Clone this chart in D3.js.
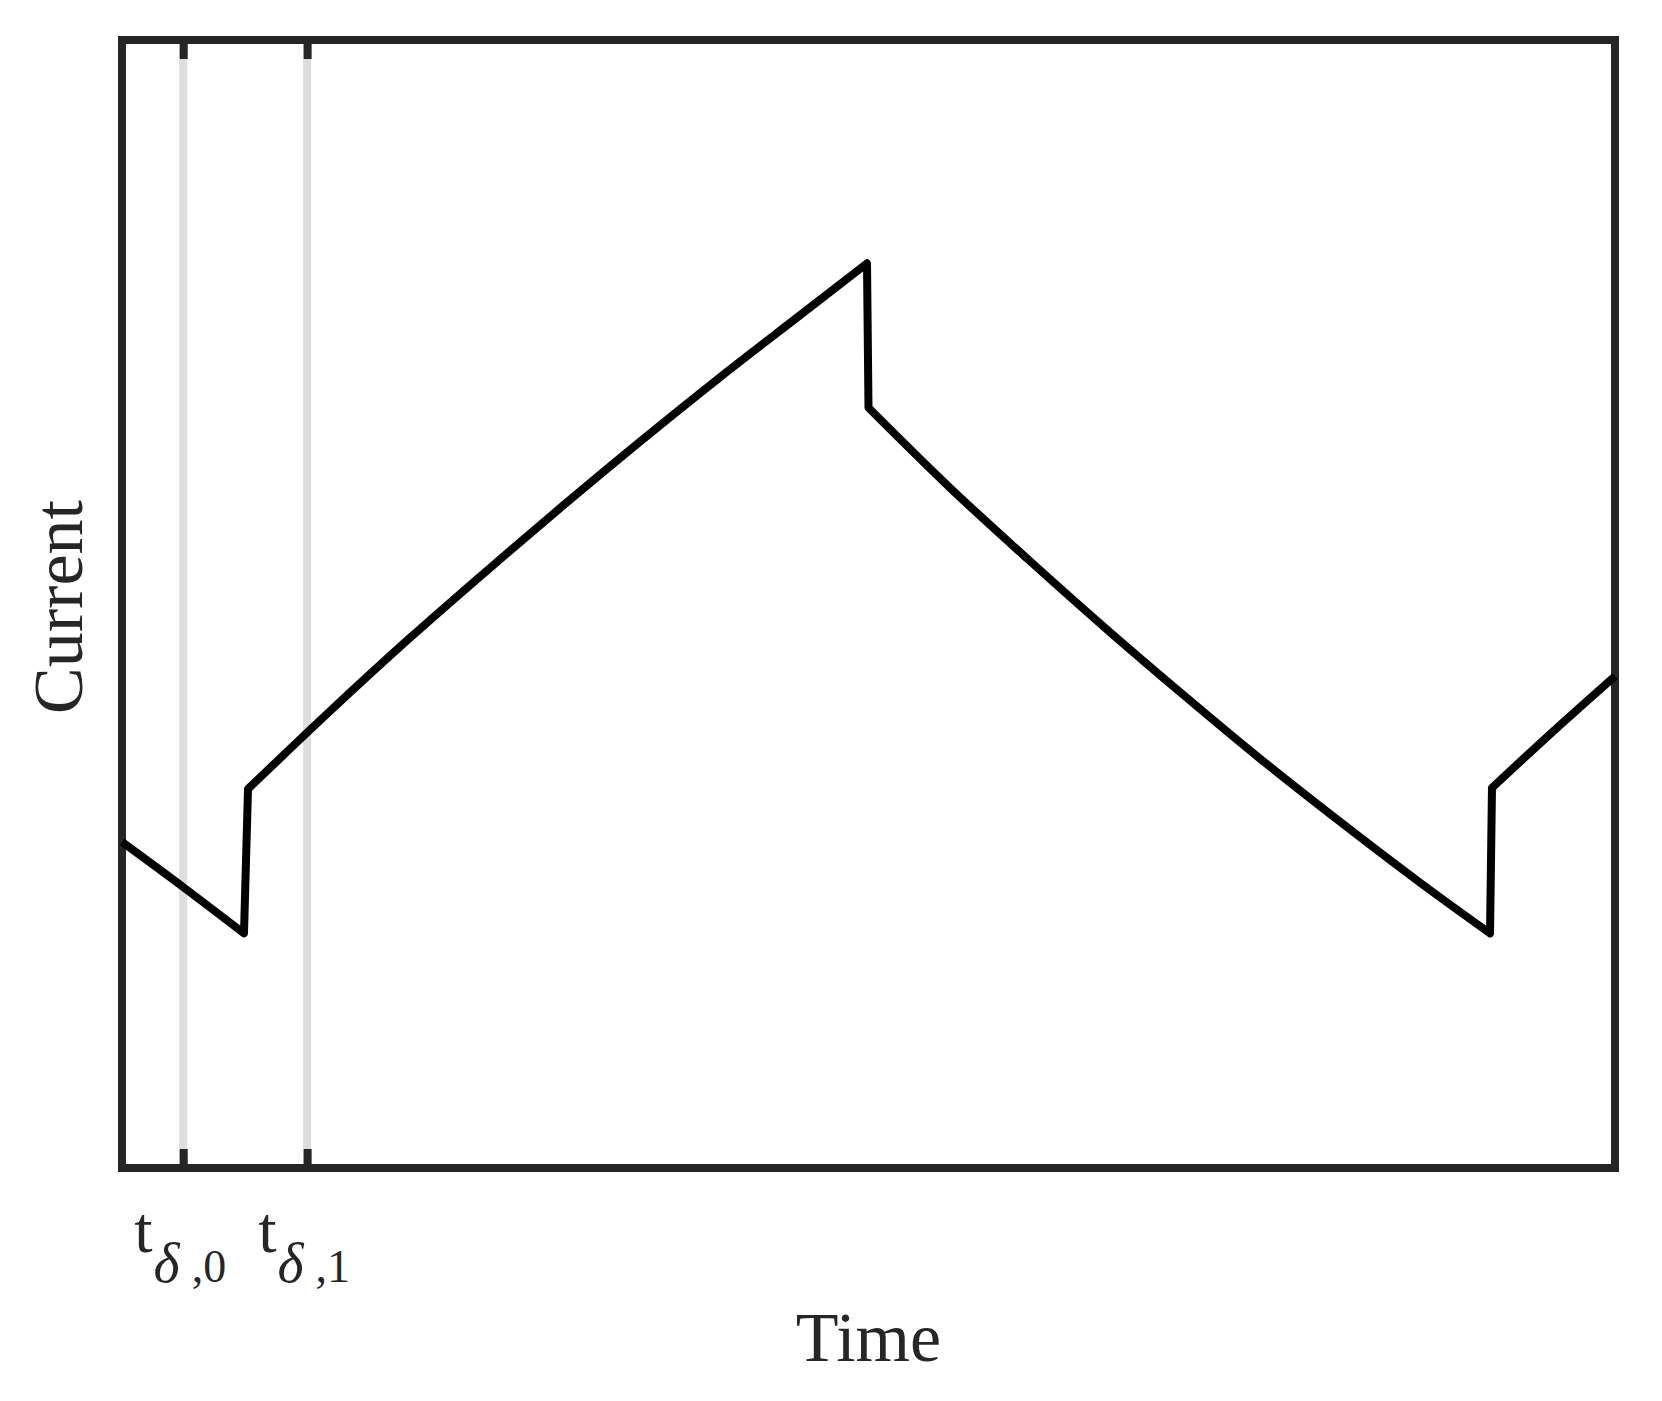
<!DOCTYPE html>
<html>
<head>
<meta charset="utf-8">
<script src="https://cdn.jsdelivr.net/npm/d3@7"></script>
<style>
  body { margin: 0; background: #fff; }
  text { font-family: "Liberation Serif", "Times New Roman", serif; fill: #262626; }
</style>
</head>
<body>
<div id="chart"></div>
<script>
// current waveform (time and current in 0..100 units)
var timeVals = [0, 4.1, 8.17, 8.44, 13.93, 19.29, 24.65, 29.34, 34.70, 40.05, 45.41, 49.9,
                50.0, 55.46, 60.82, 66.18, 70.86, 76.22, 81.58, 86.94, 91.63, 91.76, 95.85, 100];
var currentVals = [28.9, 24.9, 20.8, 33.6, 40.5, 47.0, 53.2, 58.5, 64.4, 70.1, 75.6, 80.2,
                   67.4, 60.3, 53.8, 47.5, 42.2, 36.3, 30.7, 25.3, 20.8, 33.7, 38.7, 43.6];
// indices where the current jumps (switching instants)
var jumpAt = [3, 12, 21];
// x ticks: t_{delta,0}, t_{delta,1}
var tickTimes = [4.1, 12.4];
var tickSubs = ["0", "1"];

var W = 1662, H = 1401;
var margin = {top: 40, right: 47, bottom: 233, left: 122},
    width = W - margin.left - margin.right,
    height = H - margin.top - margin.bottom;

var svg = d3.select("#chart")
  .append("svg")
    .attr("width", W)
    .attr("height", H)
  .append("g")
    .attr("transform", "translate(" + margin.left + "," + margin.top + ")");

var x = d3.scaleLinear().domain([0, 100]).range([0, width]);
var y = d3.scaleLinear().domain([0, 100]).range([height, 0]);

// grey guide lines at the ticks
svg.selectAll("vline")
  .data(tickTimes)
  .enter()
  .append("line")
    .attr("x1", function(d) { return x(d); })
    .attr("x2", function(d) { return x(d); })
    .attr("y1", 0)
    .attr("y2", height)
    .attr("stroke", "#dddddd")
    .attr("stroke-width", 8);

// ticks pointing inwards, top and bottom
var bottomAxis = svg.append("g")
  .attr("transform", "translate(0," + height + ")")
  .call(d3.axisBottom(x).tickValues(tickTimes).tickSizeInner(-19).tickSizeOuter(0).tickFormat(""));
var topAxis = svg.append("g")
  .call(d3.axisTop(x).tickValues(tickTimes).tickSizeInner(-19).tickSizeOuter(0).tickFormat(""));
[bottomAxis, topAxis].forEach(function(a) {
  a.select(".domain").remove();
  a.selectAll(".tick line").attr("stroke", "#262626").attr("stroke-width", 8);
});

// tick labels
var labels = svg.selectAll("ticklabel")
  .data(tickTimes)
  .enter()
  .append("text")
    .attr("x", function(d) { return x(d) - 3; })
    .attr("y", height + 84)
    .attr("text-anchor", "middle")
    .style("font-size", "66px");
labels.append("tspan").text("t");
labels.append("tspan")
  .attr("dx", 1)
  .attr("dy", 30)
  .style("font-size", "56px")
  .style("font-style", "italic")
  .text("δ");
labels.append("tspan")
  .attr("dx", 12)
  .style("font-size", "46px")
  .text(function(d, i) { return "," + tickSubs[i]; });

// frame
svg.append("rect")
  .attr("x", 0)
  .attr("y", 0)
  .attr("width", width)
  .attr("height", height)
  .attr("fill", "none")
  .attr("stroke", "#262626")
  .attr("stroke-width", 8);

// the current curve: smooth pieces joined by the vertical jumps
var line = d3.line()
  .x(function(i) { return x(timeVals[i]); })
  .y(function(i) { return y(currentVals[i]); })
  .curve(d3.curveMonotoneX);
var bounds = [0].concat(jumpAt, [timeVals.length]);
var pathD = "";
for (let k = 0; k < bounds.length - 1; k++) {
  var idx = d3.range(bounds[k], bounds[k + 1]);
  var piece = line(idx);
  pathD += (k === 0) ? piece : "L" + piece.slice(1);
}
svg.append("path")
  .attr("d", pathD)
  .attr("fill", "none")
  .attr("stroke", "#000")
  .attr("stroke-width", 8)
  .attr("stroke-linejoin", "round");

// axis titles
svg.append("text")
  .attr("x", width / 2)
  .attr("y", height + 193)
  .attr("text-anchor", "middle")
  .style("font-size", "70px")
  .text("Time");

svg.append("text")
  .attr("transform", "translate(-40," + (height / 2 + 3) + ")rotate(-90)")
  .attr("text-anchor", "middle")
  .style("font-size", "70px")
  .text("Current");
</script>
</body>
</html>
